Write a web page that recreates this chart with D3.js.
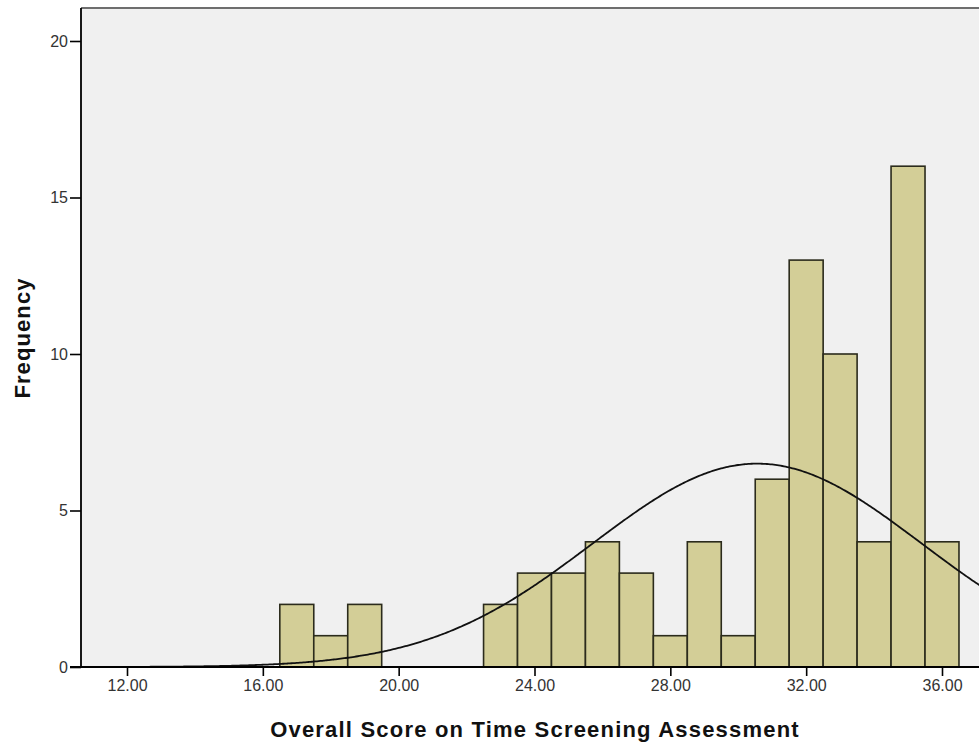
<!DOCTYPE html>
<html>
<head>
<meta charset="utf-8">
<script src="https://cdn.jsdelivr.net/npm/d3@7"></script>
<style>
  body { margin: 0; background: #fff; }
  svg { display: block; font-family: Arial, "Liberation Sans", sans-serif; }
</style>
</head>
<body>
<svg id="chart"></svg>
<script>
// bin centres (bin width 1) and counts
const binCenters = [17, 18, 19, 23, 24, 25, 26, 27, 28, 29, 30, 31, 32, 33, 34, 35, 36];
const counts     = [2, 1, 2, 2, 3, 3, 4, 3, 1, 4, 1, 6, 13, 10, 4, 16, 4];
const xTicks = [12, 16, 20, 24, 28, 32, 36];
const yTicks = [0, 5, 10, 15, 20];

const width = 979, height = 742;
const svg = d3.select("#chart").attr("width", width).attr("height", height);

const plotLeft = 81, plotTop = 8, plotBottom = 667;
const x = d3.scaleLinear().domain([12, 36]).range([127, 942]);
const y = d3.scaleLinear().domain([0, 20]).range([plotBottom, 41]);
const plotRight = x(39.5);

// plot background
svg.append("rect")
  .attr("x", plotLeft).attr("y", plotTop)
  .attr("width", plotRight - plotLeft).attr("height", plotBottom - plotTop)
  .attr("fill", "#f0f0f0");

svg.append("line")
  .attr("x1", plotLeft).attr("x2", plotRight).attr("y1", plotTop).attr("y2", plotTop)
  .attr("stroke", "#6e6e6e").attr("stroke-width", 2);

// bars
svg.selectAll(".bar")
  .data(binCenters)
  .enter().append("rect")
  .attr("class", "bar")
  .attr("x", d => x(d - 0.5))
  .attr("width", d => x(d + 0.5) - x(d - 0.5))
  .attr("y", (d, i) => y(counts[i]))
  .attr("height", (d, i) => y(0) - y(counts[i]))
  .attr("fill", "#d3ce97")
  .attr("stroke", "#2b2b1c")
  .attr("stroke-width", 1.6);

// normal curve from the binned data
const n = d3.sum(counts);
const mean = d3.sum(binCenters, (d, i) => d * counts[i]) / n;
const sd = Math.sqrt(d3.sum(binCenters, (d, i) => counts[i] * (d - mean) ** 2) / (n - 1));
const curve = d3.range(x.invert(plotLeft), x.invert(plotRight), 0.05).map(v =>
  [v, n / (sd * Math.sqrt(2 * Math.PI)) * Math.exp(-0.5 * ((v - mean) / sd) ** 2)]);

svg.append("path")
  .datum(curve)
  .attr("fill", "none")
  .attr("stroke", "#111")
  .attr("stroke-width", 1.8)
  .attr("d", d3.line().x(d => x(d[0])).y(d => y(d[1])).curve(d3.curveBasis));

// axes
const xAxis = svg.append("g")
  .attr("transform", `translate(0,${plotBottom})`)
  .call(d3.axisBottom(x).tickValues(xTicks).tickFormat(d3.format(".2f")).tickSize(9).tickPadding(4).tickSizeOuter(0));
xAxis.select(".domain").remove();
xAxis.append("line").attr("x1", plotLeft - 11).attr("x2", plotRight).attr("stroke", "#000").attr("stroke-width", 1.8);

const yAxis = svg.append("g")
  .attr("transform", `translate(${plotLeft},0)`)
  .call(d3.axisLeft(y).tickValues(yTicks).tickSize(11).tickPadding(2).tickSizeOuter(0));
yAxis.select(".domain").remove();
yAxis.append("line").attr("y1", plotTop).attr("y2", plotBottom).attr("stroke", "#000").attr("stroke-width", 1.8);

svg.selectAll(".tick line").attr("stroke", "#000").attr("stroke-width", 1.6);
svg.selectAll(".tick text").attr("font-size", 16).attr("fill", "#333");

svg.append("text")
  .attr("x", 535).attr("y", 737)
  .attr("text-anchor", "middle")
  .attr("font-size", 22).attr("font-weight", "bold").attr("fill", "#111")
  .attr("letter-spacing", 1.2)
  .text("Overall Score on Time Screening Assessment");

svg.append("text")
  .attr("transform", "translate(30,338) rotate(-90)")
  .attr("text-anchor", "middle")
  .attr("font-size", 22).attr("font-weight", "bold").attr("fill", "#111")
  .attr("letter-spacing", 1.1)
  .text("Frequency");
</script>
</body>
</html>
